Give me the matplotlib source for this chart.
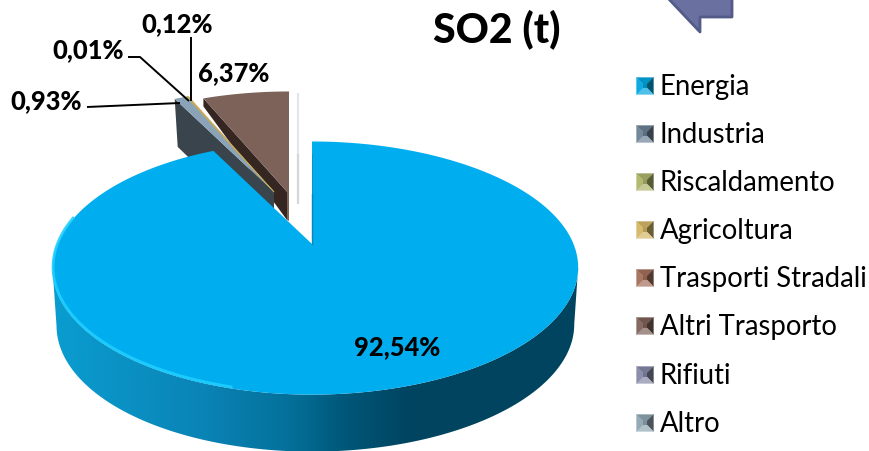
import numpy as np
import matplotlib
matplotlib.use("Agg")
import matplotlib.pyplot as plt
from matplotlib.colors import to_rgb, LinearSegmentedColormap
from matplotlib.patches import Polygon

categories = ["Energia", "Industria", "Riscaldamento", "Agricoltura",
              "Trasporti Stradali", "Altri Trasporto", "Rifiuti", "Altro"]
shares = [92.54, 0.93, 0.01, 0.12, 0.0, 6.37, 0.0, 0.0]
labels = ["92,54%", "0,93%", "0,01%", "0,12%", "", "6,37%", "", ""]
colors = ["#00AEEF", "#8AA3B8", "#A9B36A", "#C9A85A", "#A56F5C", "#7C6259", "#8589A8", "#8FA6B3"]
side_colors = ["#0A7FB0", "#3A444C", "#6F7540", "#8A7438", "#5E3A30", "#352622", "#50536E", "#55656F"]
legend_colors = ["#00A7E0", "#6C8296", "#AEB56A", "#D4B765", "#A56F5C", "#7F625A", "#8589A8", "#8FA6B3"]

plt.rcParams["font.family"] = ["Lato", "DejaVu Sans"]
fig = plt.figure(figsize=(8.7, 4.52), dpi=100)
ax = fig.add_axes([0, 0, 1, 1])
ax.set_xlim(0, 870)
ax.set_ylim(452, 0)
ax.axis("off")

# projection of the tilted disc
K, A, B = 0.19, 258.0, 122.0
DEPTH = 57


def project(theta, apex, drift=0.0):
    """theta in radians, clockwise from twelve o'clock."""
    w = 1 + K * np.cos(theta)
    return apex[0] + A * np.sin(theta) / w + drift * np.sin(theta) ** 2, apex[1] - B * np.cos(theta) / w


def wedge(start, end, apex, drift=0.0):
    th = np.linspace(start, end, max(int(abs(end - start) * 120), 2))
    xs, ys = project(th, apex, drift)
    return np.column_stack([np.r_[apex[0], xs], np.r_[apex[1], ys]])


fractions = np.array(shares) / sum(shares)
edges = np.r_[0, np.cumsum(fractions)] * 2 * np.pi

big_apex = (312, 245)
thin_apex = (274, 193)
brown_apex = (289, 195)
BIG_DRIFT = 3.5

# Altri Trasporto slice (far side)
s, e = edges[5], edges[6]
corner = project(s, brown_apex)
ax.add_patch(Polygon([corner, brown_apex, (brown_apex[0], brown_apex[1] + 26), (brown_apex[0] - 2, brown_apex[1] + 26),
                      (corner[0], corner[1] + 8)], fc=side_colors[5], ec="none", zorder=2))
ax.add_patch(Polygon(wedge(s, e, brown_apex), fc=colors[5], ec="none", zorder=3))
ax.add_patch(Polygon([(brown_apex[0] - 2, brown_apex[1] - 4), (brown_apex[0], brown_apex[1] - 4),
                      (brown_apex[0], brown_apex[1] + 27), (brown_apex[0] - 2, brown_apex[1] + 26)],
                     fc=colors[5], ec="none", zorder=3))

# thin slices: Industria, Riscaldamento, Agricoltura
s = edges[1]
corner = project(s, thin_apex)
ax.add_patch(Polygon([corner, thin_apex, (thin_apex[0], thin_apex[1] + 48), (corner[0] + 3, corner[1] + 48)],
                     fc=side_colors[1], ec="none", zorder=4))
for i in (1, 2, 3):
    ax.add_patch(Polygon(wedge(edges[i], edges[i + 1], thin_apex), fc=colors[i],
                         ec=colors[i], lw=0.5 if i > 1 else 0, zorder=5))

# faint vertical ghost line
ax.plot([298.5, 298.5], [94, 155], color="#E4E4EC", lw=1.6, zorder=1, solid_capstyle="butt")
ax.plot([298.5, 298.5], [155, 205], color="#D6D6D8", lw=1.6, zorder=1, solid_capstyle="butt")

# Energia side wall: horizontal gradient clipped to the wall outline
side_cmap = LinearSegmentedColormap.from_list(
    "side", [(0, "#0A9DD0"), (0.29, "#0A83B5"), (0.45, "#04709A"), (0.55, "#00587A"),
             (0.68, "#00445F"), (1, "#004560")])
th = np.linspace(np.pi / 2 - 0.4, 3 * np.pi / 2 + 0.4, 600)
xs, ys = project(th, big_apex, BIG_DRIFT)
lo, hi = np.argmax(xs), np.argmin(xs)
xs, ys = xs[lo:hi + 1], ys[lo:hi + 1]
x0, x1 = xs.min(), xs.max()
mid = (x0 + x1) / 2
bottom_x = mid + (xs - mid) * 0.985
outline = np.r_[np.column_stack([xs, ys]), np.column_stack([bottom_x, ys + DEPTH])[::-1]]
clip = Polygon(outline, transform=ax.transData, fc="none", ec="none")
ax.add_patch(clip)
grad = ax.imshow(np.linspace(0, 1, 512)[None, :], cmap=side_cmap, vmin=0, vmax=1,
                 extent=(x0, x1, 452, 230), aspect="auto", zorder=6, interpolation="bilinear")
grad.set_clip_path(clip)
ax.set_xlim(0, 870)
ax.set_ylim(452, 0)

# Energia top face
ax.add_patch(Polygon(wedge(edges[0], edges[1], big_apex, BIG_DRIFT), fc=colors[0], ec="none", zorder=7))

# rim highlight on the lower left
th = np.linspace(np.radians(195), np.radians(282), 120)
xs, ys = project(th, big_apex, BIG_DRIFT)
ax.plot(xs + 0.5, ys - 1.5, color="#20CFFF", lw=2.0, alpha=0.9, zorder=8)

# inner dark sliver at the 12 o'clock cut
ax.plot([big_apex[0], big_apex[0]], [big_apex[1], big_apex[1] - 50], color="#0A7FA8", lw=1.0, zorder=8)
ax.plot([big_apex[0], big_apex[0]], [big_apex[1], big_apex[1] - 90], color="#0A8CBC", lw=0.5, zorder=8)

# leader lines
leader_style = dict(color="black", lw=1.4, zorder=9, solid_capstyle="butt")
ax.plot([87, 180], [108, 104], **leader_style)
ax.plot([128, 140, 189], [58, 58, 102], **leader_style)
ax.plot([191, 191], [38, 102], **leader_style)

# data labels
label_style = dict(fontsize=18.4, fontweight="black", color="black", ha="center", va="center", zorder=10)
ax.text(397, 347, labels[0], **label_style)
ax.text(46, 101, labels[1], **label_style)
ax.text(88, 50, labels[2], **label_style)
ax.text(177, 24, labels[3], **label_style)
ax.text(234, 73, labels[5], **label_style)

# title
ax.text(497, 29, "SO2 (t)", fontsize=29.5, fontweight="black", ha="center", va="center", color="black")

# callout arrow shape cropped by the top edge
ax.add_patch(Polygon([(665, -4), (700, 33), (700, 18), (732, 18), (732, -4)],
                     fc="#6A70A0", ec="#535B88", lw=2, joinstyle="round", zorder=3))


def shade(c, f):
    r = np.array(to_rgb(c))
    return tuple(np.clip(r * f if f < 1 else r + (1 - r) * (f - 1), 0, 1))


# legend with bevelled square keys
legend_y = [87, 135, 183, 231, 279, 327, 376, 424]
half, inner = 8.5, 2.0
for name, col, yc in zip(categories, legend_colors, legend_y):
    xc = 645
    o = [(xc - half, yc - half), (xc + half, yc - half), (xc + half, yc + half), (xc - half, yc + half)]
    n = [(xc - inner, yc - inner), (xc + inner, yc - inner), (xc + inner, yc + inner), (xc - inner, yc + inner)]
    faces = [(0, 1, 0.88), (1, 2, 0.5), (2, 3, 1.3), (3, 0, 1.05)]
    for a, b, f in faces:
        ax.add_patch(Polygon([o[a], o[b], n[b], n[a]], fc=shade(col, f), ec=shade(col, f), lw=0.2, zorder=3))
    ax.add_patch(Polygon(n, fc=shade(col, 0.85), ec="none", zorder=4))
    ax.text(660, yc + 0.5, name, fontsize=19.8, ha="left", va="center", color="black")

fig.savefig("out.png", dpi=100, facecolor="white")
